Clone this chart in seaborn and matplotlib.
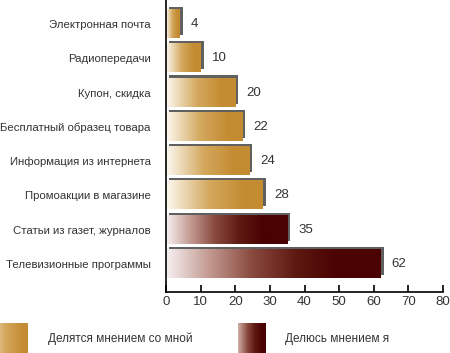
import numpy as np
import pandas as pd
import matplotlib
matplotlib.use("Agg")
import matplotlib.pyplot as plt
import matplotlib.patheffects as pe
from matplotlib.colors import LinearSegmentedColormap
import seaborn as sns

# =============================================================================
# Data
# =============================================================================
SOURCES = [
    "Электронная почта",
    "Радиопередачи",
    "Купон, скидка",
    "Бесплатный образец товара",
    "Информация из интернета",
    "Промоакции в магазине",
    "Статьи из газет, журналов",
    "Телевизионные программы",
]
VALUES = [4, 10, 20, 22, 24, 28, 35, 62]
GROUP_SHARED = "Делятся мнением со мной"
GROUP_MINE = "Делюсь мнением я"
GROUPS = [GROUP_SHARED] * 6 + [GROUP_MINE] * 2
X_TICKS = list(range(0, 81, 10))

# =============================================================================
# Style
# =============================================================================
GOLD = "#c48c32"
MAROON = "#4a0202"
CMAPS = {
    GROUP_SHARED: LinearSegmentedColormap.from_list(
        "gold", [(0, "#fdf9f1"), (0.45, "#d4a85e"), (0.8, GOLD), (1, GOLD)]
    ),
    GROUP_MINE: LinearSegmentedColormap.from_list(
        "maroon", [(0, "#f7f1f1"), (0.2, "#c39a92"), (0.4, "#8a4a3e"),
                   (0.6, "#5e1a12"), (0.8, MAROON), (1, MAROON)]
    ),
}
TEXT_COLOR = "#333333"

sns.set_theme(style="white")
plt.rcParams["font.family"] = ["Liberation Sans", "DejaVu Sans"]

df = pd.DataFrame({"source": SOURCES, "value": VALUES, "group": GROUPS})

fig = plt.figure(figsize=(4.5, 3.53), dpi=100)
ax = fig.add_axes([166 / 450, 1 - 292 / 353, 277 / 450, 292 / 353])

sns.barplot(
    data=df,
    x="value",
    y="source",
    hue="group",
    hue_order=[GROUP_SHARED, GROUP_MINE],
    palette={GROUP_SHARED: GOLD, GROUP_MINE: MAROON},
    dodge=False,
    width=0.82,
    legend=False,
    ax=ax,
)

gradient = np.linspace(0, 1, 256).reshape(1, -1)

# gradient fill + drop shadow on each bar
for container, group in zip(ax.containers, [GROUP_SHARED, GROUP_MINE]):
    for patch in container.patches:
        w = patch.get_width()
        if not np.isfinite(w) or w <= 0:
            continue
        x0, y0, h = patch.get_x(), patch.get_y(), patch.get_height()
        patch.set_linewidth(0)
        patch.set_path_effects(
            [pe.SimplePatchShadow(offset=(2.2, 2.2), shadow_rgbFace="#606060", alpha=1), pe.Normal()]
        )
        ax.imshow(
            gradient,
            extent=[x0, x0 + w, y0 + h, y0],
            cmap=CMAPS[group],
            aspect="auto",
            interpolation="bilinear",
            zorder=patch.get_zorder() + 0.5,
        )
    ax.bar_label(container, fmt="%d", padding=8, fontsize=9.5, color=TEXT_COLOR)

ax.set_xlim(0, 80)
ax.set_ylim(7.82, -0.70)
ax.set_xticks(X_TICKS)
ax.set_xlabel("")
ax.set_ylabel("")

for side in ["top", "right"]:
    ax.spines[side].set_visible(False)
for side in ["left", "bottom"]:
    ax.spines[side].set_color("black")
    ax.spines[side].set_linewidth(1.2)

ax.tick_params(axis="x", direction="in", length=5, width=1.2, color="black",
               labelsize=9.5, labelcolor=TEXT_COLOR, pad=3, bottom=True)
ax.tick_params(axis="y", length=0, pad=11, labelsize=8.2, labelcolor=TEXT_COLOR)

# legend with gradient swatches
legend_items = [
    (GROUP_SHARED, 0, 48, 0.35),
    (GROUP_MINE, 238, 285, 0.15),
]
for group, sx, tx, start in legend_items:
    sw = fig.add_axes([sx / 450, 0, 28 / 450, 30 / 353])
    sw.imshow(np.linspace(start, 0.9, 128).reshape(1, -1), cmap=CMAPS[group],
              aspect="auto", vmin=0, vmax=1, interpolation="bilinear")
    sw.axis("off")
    fig.text(tx / 450, 1 - 339 / 353, group, fontsize=8.5, color=TEXT_COLOR, va="center")

fig.savefig("out.png", dpi=100)
